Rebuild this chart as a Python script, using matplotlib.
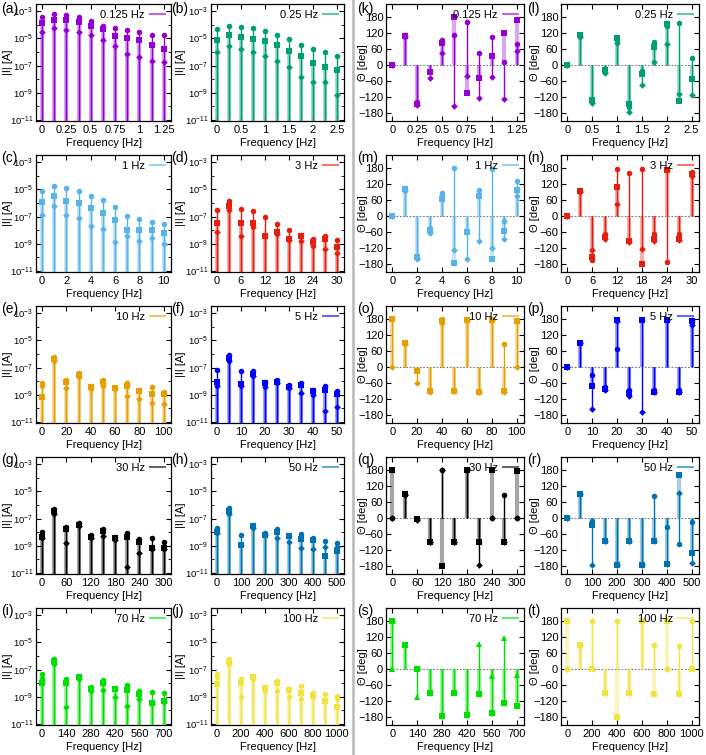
import numpy as np
import matplotlib
matplotlib.use('Agg')
import matplotlib.pyplot as plt
from matplotlib.lines import Line2D
from matplotlib.ticker import FixedLocator, NullFormatter

plt.rcParams['font.family'] = ['Liberation Sans', 'DejaVu Sans']
plt.rcParams['mathtext.default'] = 'regular'

# ---------------- data ----------------
FUND = [0.125, 0.25, 1, 3, 10, 5, 30, 50, 70, 100]
FUND_LABELS = ['0.125 Hz', '0.25 Hz', '1 Hz', '3 Hz', '10 Hz', '5 Hz', '30 Hz', '50 Hz', '70 Hz', '100 Hz']
XTICK_STEP = [0.25, 0.5, 2, 6, 20, 10, 60, 100, 140, 200]
HARMONICS = np.arange(11)
MAG_LETTERS = list('abcdefghij')
PH_LETTERS = list('klmnopqrst')

# magnitude |I| [A]: circle / square / diamond series
A_CIRC = [3.6e-4, 6.3e-4, 5e-4, 3.6e-4, 1.8e-4, 8e-5, 6e-5, 4.5e-5, 3.2e-5, 1.9e-5, 1.7e-5]
A_SQ = [1.4e-4, 2.5e-4, 2.2e-4, 1.6e-4, 9e-5, 5.2e-5, 1.6e-5, 1e-5, 8e-6, 3.5e-6, 1.6e-6]
A_DIA = [3.2e-5, 6.3e-5, 4.5e-5, 3.2e-5, 1.9e-5, 8e-6, 2.9e-6, 7e-7, 4e-7, 2.2e-7, 1.7e-7]

B_CIRC = [4.6e-5, 8.7e-5, 7.2e-5, 5.5e-5, 3.5e-5, 1.9e-5, 8.5e-6, 3.4e-6, 1.6e-6, 9.3e-7, 5.2e-7]
B_SQ = [7.9e-6, 1.7e-5, 1.26e-5, 9.5e-6, 6e-6, 3.4e-6, 1.26e-6, 4.7e-7, 1.6e-7, 7.6e-8, 4.6e-8]
B_DIA = [1.05e-6, 2.6e-6, 1.66e-6, 1.05e-6, 5.2e-7, 2.2e-7, 7.6e-8, 1.4e-8, 6.6e-9, 5.6e-9, 6.5e-10]

C_CIRC = [8.1e-6, 1.7e-5, 1.2e-5, 7.2e-6, 3.5e-6, 1.55e-6, 4.7e-7, 1.15e-7, 6.5e-8, 4.2e-8, 2.8e-8]
C_SQ = [1.26e-6, 3.1e-6, 1.5e-6, 1e-6, 4.3e-7, 1.8e-7, 5.5e-8, 1.05e-8, 1.05e-8, 1e-8, 6e-9]
C_DIA = [1.3e-7, 6.3e-7, 1.35e-7, 7.8e-8, 2.1e-8, 1.2e-8, 1.4e-9, 3.8e-9, 1.65e-9, 2.6e-9, 9.3e-10]

D_CIRC = [3.3e-7, 1.3e-6, 3.9e-7, 2.5e-7, 8.9e-8, 3e-8, 1.1e-8, 4.3e-9, 2.3e-9, 3.4e-9, 1.8e-9]
D_SQ = [3.6e-8, 5.9e-7, 3.5e-8, 3.6e-8, 3.4e-9, 6.9e-9, 2.1e-9, 3.8e-9, 1.3e-9, 2.1e-9, 5.8e-10]
D_DIA = [7.8e-9, 3.3e-7, 3.4e-9, 1.7e-8, 3.4e-9, 5.1e-9, 1.9e-9, 1.6e-9, 7.2e-10, 4e-10, 2.2e-10]

E_CIRC = [6.8e-9, 6.3e-7, 1.2e-8, 3.7e-8, 4.3e-9, 1.2e-8, 3.2e-9, 6.8e-9, 2.1e-9, 3.4e-9, 1.6e-9]
E_SQ = [6.9e-10, 4e-7, 8.9e-9, 2.8e-8, 3.4e-9, 8.9e-9, 2.9e-9, 4.3e-9, 1.95e-9, 1.2e-9, 1.05e-9]
E_DIA = [4.3e-9, 3e-7, 2.9e-9, 2.1e-8, 2.4e-9, 4.3e-9, 2.4e-9, 8.3e-10, 4.5e-10, 2.5e-10, 2.2e-10]

F_CIRC = [6.5e-8, 8.3e-7, 5.8e-8, 5.8e-8, 8.9e-9, 1.2e-8, 5e-9, 7.6e-9, 2.1e-9, 4.3e-9, 1.8e-9]
F_SQ = [8.9e-9, 4.7e-7, 6e-9, 3.3e-8, 6.8e-9, 8.9e-9, 3.8e-9, 5e-9, 1.8e-9, 2.1e-9, 1.2e-9]
F_DIA = [4.3e-9, 3.2e-7, 4.3e-9, 2.3e-8, 3.4e-9, 6.8e-9, 2.9e-9, 1.4e-9, 9.3e-10, 6.3e-11, 1.26e-10]

G_CIRC = [1.1e-8, 5e-7, 2.5e-8, 4.5e-8, 6.3e-9, 1.6e-8, 4.7e-9, 8.1e-9, 2.9e-9, 3.5e-9, 2e-9]
G_SQ = [4.7e-9, 3.5e-7, 1.6e-8, 3.4e-8, 4.5e-9, 1.2e-8, 3.5e-9, 4.2e-9, 2e-9, 6.3e-10, 6.3e-10]
G_DIA = [3.5e-9, 2.2e-7, 1.6e-9, 2.8e-8, 3.5e-9, 5.5e-9, 2.6e-9, 2.8e-11, 2.7e-10, 6e-10, 6e-10]

H_CIRC = [1.9e-8, 6.3e-7, 6.2e-9, 3.5e-8, 8.1e-9, 1.6e-8, 5.2e-9, 7e-9, 3.5e-9, 2.3e-9, 1.65e-9]
H_SQ = [1.1e-8, 3.5e-7, 1.1e-9, 2.6e-8, 6.2e-9, 1.1e-8, 5e-9, 3.1e-9, 2.6e-9, 1.8e-10, 4.3e-10]
H_DIA = [8e-9, 2.2e-7, 1.1e-9, 2e-8, 6e-9, 3.5e-9, 2e-9, 6.3e-10, 5.4e-10, 8.5e-10, 8.5e-10]

I_CIRC = [4.7e-8, 6e-7, 2e-8, 3.5e-8, 4.8e-9, 1.7e-8, 3.6e-9, 7e-9, 2.7e-9, 2.3e-9, 1.7e-9]
I_SQ = [9.5e-9, 4.1e-7, 1.1e-8, 2.6e-8, 3.6e-9, 1.1e-8, 3.4e-9, 3e-9, 1.5e-9, 3.1e-10, 4.4e-10]
I_DIA = [2.3e-8, 2.6e-7, 1.6e-10, 2e-8, 2.8e-9, 3.2e-9, 1e-9, 2.1e-10, 6.5e-10, 2.8e-10, 3.8e-10]

J_CIRC = [4.7e-8, 6e-7, 2e-8, 3.5e-8, 4.8e-9, 1.5e-8, 3.6e-9, 5.6e-9, 2e-9, 1.5e-9, 1.15e-9]
J_SQ = [8.5e-9, 4.1e-7, 9.5e-9, 2.6e-8, 4e-9, 1.1e-8, 3.3e-9, 2e-9, 1.15e-9, 4.4e-10, 1.7e-10]
J_DIA = [2.6e-8, 2.6e-7, 1e-9, 2e-8, 2.8e-9, 2.4e-9, 8.7e-10, 7.2e-10, 1.05e-9, 3.8e-10, 6.5e-10]

# phase Theta [deg]
K_CIRC = [0, 112, -140, -22, 94, 114, 161, 44, 104, 13, 79]
K_SQ = [0, 110, -145, -28, 81, 180, -104, -47, 35, 121, 170]
K_DIA = [0, 105, -150, -47, 47, -155, -41, -123, -45, -127, 54]

L_CIRC = [0, 109, -139, -25, 94, -158, -24, 85, 146, 158, 26]
L_SQ = [0, 114, -133, -17, 100, -148, -34, 68, 154, -136, -53]
L_DIA = [0, 106, -142, -31, 81, -177, -74, 11, 79, -108, -114]

M_CIRC = [0, 104, -157, -45, 85, 180, -58, 97, 176, -17, 133]
M_SQ = [0, 100, -155, -53, 65, -176, -59, 74, -160, -55, 97]
M_DIA = [0, 95, -163, -62, 74, -128, -161, -93, -119, -87, 74]

N_CIRC = [0, 95, -165, -66, 178, 161, 176, -66, -171, -69, 167]
N_SQ = [0, 93, -155, -77, 110, -92, -180, -85, 174, -85, 159]
N_DIA = [0, 91, -127, -85, 45, -98, -123, -92, 171, -89, 151]

O_CIRC = [180, 89, -11, -86, 179, -89, 176, -92, 176, 86, 176]
O_SQ = [180, 90, -14, -89, 174, -89, 176, -92, 176, -90, 174]
O_DIA = [0, 88, -59, -92, 166, -90, 176, -92, 176, -92, 1]

P_CIRC = [0, 92, -31, -76, 67, -88, 177, -86, 177, -86, 177]
P_SQ = [0, 92, -71, -83, 177, -98, 177, -92, 177, -92, 171]
P_DIA = [0, 90, -158, -88, 171, -107, -168, -95, 177, -95, 159]

Q_CIRC = [0, 90, -5, -90, 180, -90, 180, -90, 0, 86, 0]
Q_SQ = [180, 90, -3, -90, -180, -90, 180, -90, 180, -90, 177]
Q_DIA = [0, 88, -8, -90, 180, -90, 180, -175, 0, -90, 0]

R_CIRC = [0, 90, -12, -87, -175, -87, -178, 84, -35, -98, -15]
R_SQ = [0, 92, -28, -87, -178, -88, -175, -87, -173, 160, -130]
R_DIA = [0, 90, -178, -87, -178, -87, -175, -87, -173, 94, -170]

S_CIRC = [180, 90, 0, -89, -175, -90, -173, -92, -165, -128, -140]
S_SQ = [180, 90, 0, -89, -175, -90, -173, -92, -165, -128, -140]
S_DIA = [0, 90, -105, -89, -175, -90, -168, 95, -25, 115, -22]

T_CIRC = [0, 90, 180, -90, 180, -90, 180, 90, 0, 88, 180]
T_SQ = [180, 90, 0, -90, -180, -90, 180, -92, 180, -92, 0]
T_DIA = [0, 90, 180, -90, 180, -90, 180, 90, 0, -92, 0]

MAG = [(A_CIRC, A_SQ, A_DIA), (B_CIRC, B_SQ, B_DIA), (C_CIRC, C_SQ, C_DIA),
       (D_CIRC, D_SQ, D_DIA), (E_CIRC, E_SQ, E_DIA), (F_CIRC, F_SQ, F_DIA),
       (G_CIRC, G_SQ, G_DIA), (H_CIRC, H_SQ, H_DIA), (I_CIRC, I_SQ, I_DIA),
       (J_CIRC, J_SQ, J_DIA)]
PHASE = [(K_CIRC, K_SQ, K_DIA), (L_CIRC, L_SQ, L_DIA), (M_CIRC, M_SQ, M_DIA),
         (N_CIRC, N_SQ, N_DIA), (O_CIRC, O_SQ, O_DIA), (P_CIRC, P_SQ, P_DIA),
         (Q_CIRC, Q_SQ, Q_DIA), (R_CIRC, R_SQ, R_DIA), (S_CIRC, S_SQ, S_DIA),
         (T_CIRC, T_SQ, T_DIA)]

# ---------------- style ----------------
COLORS = ['#9400d3', '#009e73', '#56b4e9', '#e51e10', '#e69f00', '#0000ff',
          '#000000', '#0072b2', '#00e000', '#f0e442']
W, H = 706, 755
MAG_COLS = [(36, 171), (211, 344)]
PH_COLS = [(386, 524), (561, 699)]
ROW_BOTTOMS = [121, 272, 423, 574, 725]
AX_H = 117
LABEL_X = [1, 171, 357, 527]
YLABEL_X = [13, 186, 368, 540]   # right edge (pixels) of the rotated y labels
MAG_YLIM = (8e-12, 3.5e-3)
PH_YLIM = (-210, 229)
FS = 8

fig = plt.figure(figsize=(W / 100, H / 100), dpi=100)


def make_ax(x0, x1, ybot):
    return fig.add_axes([x0 / W, 1 - ybot / H, (x1 - x0) / W, AX_H / H])


def style_ax(ax, i, x0, x1, ylab_px):
    f0 = FUND[i]
    ax.set_xlim(-0.5 * f0, 10.6 * f0)
    ticks = np.arange(0, 10 * f0 + 1e-9, XTICK_STEP[i])
    ax.set_xticks(ticks)
    ax.set_xticklabels(['%g' % t for t in ticks])
    ax.tick_params(direction='in', top=True, right=True, labelsize=FS, length=3.5, width=0.8, pad=3)
    ax.tick_params(axis='y', pad=2)
    ax.tick_params(which='minor', direction='in', top=True, right=True, length=2, width=0.6)
    ax.set_xlabel('Frequency [Hz]', fontsize=FS, labelpad=2)
    ax.yaxis.set_label_coords((ylab_px - x0) / (x1 - x0), 0.5)
    for s in ax.spines.values():
        s.set_linewidth(0.9)
    ax.legend(handles=[Line2D([], [], color=COLORS[i], lw=1.5, alpha=0.6)],
              labels=[FUND_LABELS[i]], loc='upper right', frameon=False,
              markerfirst=False, handlelength=1.3, fontsize=FS,
              borderaxespad=0.15, handletextpad=0.5)


def draw_series(ax, i, series, base, third_marker='D'):
    c = COLORS[i]
    x = HARMONICS * FUND[i]
    circ, sq, dia = series
    ax.vlines(x, base, sq, colors=c, linewidth=3.0, alpha=0.35, zorder=2)
    ax.vlines(x, base, circ, colors=c, linewidth=1.0, zorder=3)
    ax.vlines(x, base, dia, colors=c, linewidth=1.0, zorder=3)
    ax.plot(x, sq, 's', color=c, markersize=4.2, markeredgewidth=0, zorder=4)
    ax.plot(x, circ, 'o', color=c, markersize=4.0, markeredgewidth=0, zorder=5)
    ax.plot(x, dia, third_marker, color=c, markersize=3.4 if third_marker == 'D' else 4.0,
            markeredgewidth=0, zorder=5)


def panel_label(xpx, ybot, letter):
    yc = max(ybot - AX_H + 3, 9)
    fig.text(xpx / W, 1 - yc / H, '(%s)' % letter, fontsize=10, va='center', ha='left')


for i in range(10):
    r, cidx = divmod(i, 2)
    ybot = ROW_BOTTOMS[r]
    # magnitude panel
    x0, x1 = MAG_COLS[cidx]
    ax = make_ax(x0, x1, ybot)
    ax.set_yscale('log')
    ax.set_ylim(*MAG_YLIM)
    draw_series(ax, i, MAG[i], MAG_YLIM[0])
    ax.yaxis.set_major_locator(FixedLocator([1e-11, 1e-9, 1e-7, 1e-5, 1e-3]))
    ax.yaxis.set_minor_locator(FixedLocator([1e-10, 1e-8, 1e-6, 1e-4]))
    ax.yaxis.set_minor_formatter(NullFormatter())
    ax.set_yticklabels(['$10^{-11}$', '$10^{-9}$', '$10^{-7}$', '$10^{-5}$', '$10^{-3}$'])
    ax.set_ylabel('|I| [A]', fontsize=FS)
    style_ax(ax, i, x0, x1, YLABEL_X[cidx])
    for lbl in ax.get_yticklabels():
        lbl.set_fontsize(6.8)
    panel_label(LABEL_X[cidx], ybot, MAG_LETTERS[i])

    # phase panel
    x0, x1 = PH_COLS[cidx]
    ax = make_ax(x0, x1, ybot)
    ax.set_ylim(*PH_YLIM)
    ax.axhline(0, color='#777777', lw=0.8, ls=(0, (1.5, 1.5)), zorder=1)
    draw_series(ax, i, PHASE[i], 0, third_marker='^' if FUND[i] == 70 else 'D')
    ax.set_yticks([-180, -120, -60, 0, 60, 120, 180])
    ax.set_ylabel('Θ [deg]', fontsize=FS)
    style_ax(ax, i, x0, x1, YLABEL_X[2 + cidx])
    panel_label(LABEL_X[2 + cidx], ybot, PH_LETTERS[i])

# separator between magnitude and phase columns
fig.add_artist(Line2D([353 / W, 353 / W], [0, 1], color='#b8b8b8', lw=1.8,
                      transform=fig.transFigure))

fig.savefig('out.png', dpi=100)
